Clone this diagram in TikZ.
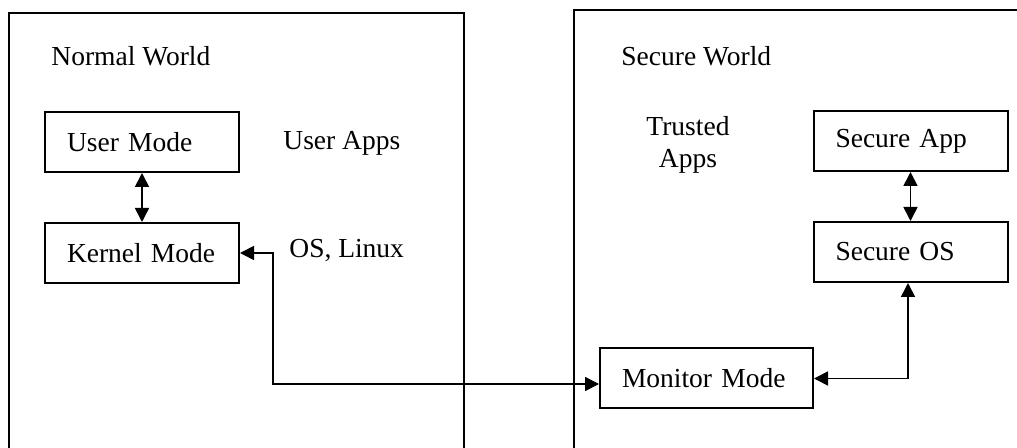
\documentclass[tikz,border=0pt]{standalone}
\usepackage{fontspec}
\setmainfont{Liberation Serif}
\usetikzlibrary{arrows.meta}
\tikzset{
	modebox/.style={draw, line width=1pt, text width=75pt, inner xsep=11pt, align=left, minimum height=30pt, font=\fontsize{13.75}{16}\selectfont},
	plaintext/.style={inner sep=0pt, anchor=base west, font=\fontsize{13.75}{16}\selectfont},
	link/.style={line width=0.8pt, {Triangle[length=7pt,width=7pt]}-{Triangle[length=7pt,width=7pt]}}
}

\begin{document}
\begin{tikzpicture}[x=0.5pt, y=-0.5pt]
			%%%%% START %%%%%
			
			\useasboundingbox (0, 0) rectangle (1017, 448);
			
			\draw[line width=1pt] (9, 448) -- (9, 13) -- (464, 13) -- (464, 448);
			\draw[line width=1pt] (574, 448) -- (574, 10) -- (1017, 10);
			
			\node[plaintext] (normal) at (51, 66) {Normal World};
			\node[plaintext] (secure) at (621, 66) {Secure World};
			
			\node[modebox] (user) at (142, 142) {User Mode};
			\node[modebox] (kernel) at (142, 253) {Kernel Mode};
			\node[plaintext] (userapps) at (283, 150) {User Apps};
			\node[plaintext] (oslinux) at (289, 258) {OS, Linux};
			
			\node[plaintext, anchor=center, align=center] (trusted) at (688, 145) {Trusted\\Apps};
			\node[modebox] (secapp) at (910.5, 141) {Secure App};
			\node[modebox] (secos) at (910.5, 252) {Secure OS};
			\node[modebox, text width=84.5pt] (monitor) at (706.5, 378.5) {Monitor Mode};
			
			\draw[link] (user.south) -- (kernel.north);
			\draw[link] (secapp.south) -- (secos.north);
			\draw[link] (kernel.east) -- ++(33, 0) |- ([yshift=-2.75pt]monitor.west);
			\draw[link] (monitor.east) -| ([xshift=-1.25pt]secos.south);
			
			%%%%% END %%%%%
		\end{tikzpicture}
\end{document}
